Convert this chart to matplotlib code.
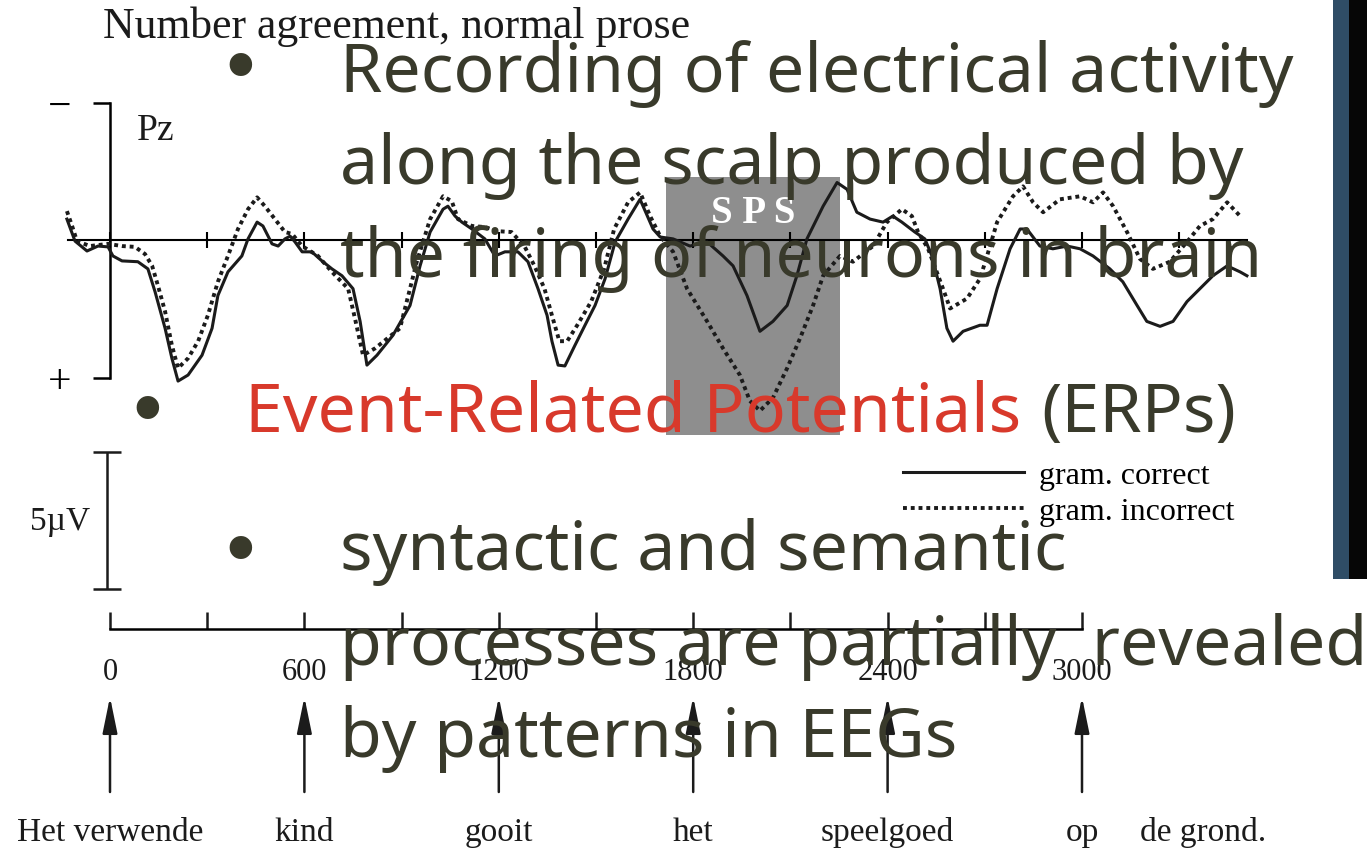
import matplotlib.pyplot as plt
from matplotlib.patches import Rectangle

# Pz grand averages: time in ms, amplitude in microvolts (negative plotted up)
t_correct = [-133, -108, -71, -37, -6, 9, 37, 86, 117, 139,
             170, 191, 210, 241, 284, 315, 333, 364, 407, 426,
             454, 472, 500, 519, 540, 556, 571, 593, 623, 654,
             685, 716, 750, 772, 793, 824, 873, 926, 957, 988,
             1028, 1043, 1065, 1086, 1117, 1157, 1188, 1219, 1259, 1290,
             1321, 1349, 1364, 1383, 1404, 1435, 1466, 1497, 1528, 1559,
             1599, 1636, 1676, 1698, 1738, 1790, 1843, 1892, 1923, 1966,
             2006, 2046, 2090, 2120, 2151, 2201, 2244, 2275, 2305, 2346,
             2386, 2416, 2444, 2484, 2515, 2537, 2562, 2583, 2602, 2633,
             2685, 2707, 2738, 2778, 2809, 2830, 2870, 2910, 2954, 2994,
             3034, 3086, 3126, 3170, 3200, 3241, 3281, 3324, 3364, 3404,
             3448, 3488, 3509]
uv_correct = [-0.76, 0.04, 0.40, 0.22, 0.25, 0.58, 0.76, 0.79, 1.05, 1.88,
              3.21, 4.30, 5.13, 4.91, 4.19, 3.21, 2.02, 1.16, 0.58, -0.04,
              -0.65, -0.51, 0.14, 0.22, -0.04, -0.14, 0.07, 0.43, 0.43, 0.76,
              1.05, 1.30, 1.77, 2.96, 4.55, 4.19, 3.47, 2.38, 0.94, -0.29,
              -1.12, -1.23, -0.87, -0.65, -0.40, -0.04, 0.58, 0.43, 0.43, 0.79,
              1.77, 2.74, 3.68, 4.55, 4.58, 3.83, 3.10, 2.38, 1.41, 0.07,
              -0.76, -1.48, -0.40, -0.11, -0.04, 0.22, 0.07, 0.58, 0.94, 2.02,
              3.32, 2.96, 2.38, 1.30, -0.04, -1.23, -2.09, -1.84, -1.01, -0.76,
              -0.65, -0.87, -0.65, -0.29, -0.04, 0.58, 1.77, 3.21, 3.68, 3.32,
              3.10, 3.10, 1.77, 0.32, -0.40, -0.40, 0.22, 0.32, 0.22, 0.32,
              0.58, 1.05, 1.52, 2.38, 2.96, 3.14, 2.96, 2.24, 1.77, 1.30,
              0.94, 1.16, 1.30]

t_incorrect = [-133, -117, -102, -62, -6, 37, 77, 108, 130, 148,
               170, 191, 210, 241, 272, 302, 333, 364, 395, 426,
               454, 478, 509, 540, 562, 593, 642, 685, 735, 756,
               781, 818, 895, 947, 988, 1028, 1055, 1074, 1117, 1157,
               1197, 1239, 1279, 1310, 1341, 1364, 1387, 1411, 1442, 1485,
               1525, 1556, 1599, 1636, 1667, 1698, 1738, 1781, 1843, 1892,
               1944, 1975, 2006, 2046, 2090, 2130, 2170, 2201, 2253, 2293,
               2355, 2398, 2444, 2475, 2494, 2525, 2540, 2571, 2593, 2645,
               2685, 2707, 2738, 2787, 2818, 2849, 2880, 2932, 2994, 3034,
               3065, 3096, 3139, 3179, 3219, 3271, 3324, 3364, 3404, 3448,
               3488]
uv_incorrect = [-1.05, -0.51, 0.04, 0.22, 0.14, 0.22, 0.25, 0.51, 0.94, 1.66,
                2.60, 3.83, 4.66, 4.30, 3.68, 2.74, 1.52, 0.58, -0.40, -1.12,
                -1.55, -1.23, -0.76, -0.29, -0.22, 0.22, 0.58, 1.16, 1.77, 2.85,
                4.19, 3.94, 3.21, 0.79, -0.76, -1.59, -1.41, -0.76, -0.51, -0.47,
                -0.32, -0.29, 0.22, 0.94, 1.77, 2.74, 3.68, 3.68, 3.10, 2.24,
                1.05, -0.40, -1.37, -1.73, -0.87, -0.14, 0.43, 1.77, 2.96, 3.94,
                4.91, 5.85, 6.21, 5.74, 4.66, 3.57, 2.38, 1.30, 0.58, 0.79,
                0.22, -0.65, -1.12, -0.87, -0.29, 0.32, 0.79, 1.77, 2.49, 2.13,
                1.41, 0.58, -0.65, -1.59, -1.95, -1.37, -1.01, -1.48, -1.59, -1.37,
                -1.73, -1.23, -0.29, 0.69, 1.05, 0.79, 0.07, -0.51, -0.76, -1.37,
                -0.87]

time_labels = [0, 600, 1200, 1800, 2400, 3000]
word_onsets = [0, 600, 1200, 1800, 2400, 3000]
words = ["Het verwende", "kind", "gooit", "het", "speelgoed", "op"]
last_word = "de grond."
last_word_ms = 3373

sps_window = [1716, 2253]
sps_range = [-2.3, 7.1]
scale_uv = 5
scale_top_uv = 7.7

W, H = 1367, 853
PX_MS = 0.324     # pixels per ms
ZERO_X, ZERO_Y = 110, 241
PX_UV = 27.5      # pixels per microvolt
XLIM = (-ZERO_X / PX_MS, (W - ZERO_X) / PX_MS)

serif = "Liberation Serif"
ink = "#1b1b1b"
slide_ink = "#393a2b"
slide_red = "#d8392b"

fig = plt.figure(figsize=(W / 100, H / 100), dpi=100)
fig.patch.set_facecolor("white")


def band(top, bottom):
    return [0, 1 - bottom / H, 1, (bottom - top) / H]


# ERP panel
ax = fig.add_axes(band(95, 600))
ax.set_xlim(*XLIM)
ax.set_ylim((600 - ZERO_Y) / PX_UV, (95 - ZERO_Y) / PX_UV)
ax.patch.set_visible(False)

ax.add_patch(Rectangle((sps_window[0], sps_range[0]),
                       sps_window[1] - sps_window[0], sps_range[1] - sps_range[0],
                       facecolor="#8e8e8e", edgecolor="none", zorder=1))
ax.text(sum(sps_window) / 2, -1.0, "S P S", color="white", fontweight="bold",
        fontfamily=serif, fontsize=28, ha="center", va="center", zorder=2)

ax.plot(t_correct, uv_correct, color=ink, lw=2.2, label="gram. correct",
        solid_joinstyle="round", zorder=3)
ax.plot(t_incorrect, uv_incorrect, color=ink, lw=2.8, linestyle=(0, (1, 1.0)),
        label="gram. incorrect", zorder=3)

for side in ("top", "right"):
    ax.spines[side].set_visible(False)
ax.spines["left"].set_position(("data", 0))
ax.spines["left"].set_bounds(-5, 5)
ax.spines["left"].set_linewidth(1.8)
ax.spines["bottom"].set_position(("data", 0))
ax.spines["bottom"].set_bounds(-130, 3510)
ax.spines["bottom"].set_linewidth(1.5)
ax.set_yticks([-5, 5])
ax.set_yticklabels(["\u2212", "+"], fontfamily=serif, fontsize=30)
ax.tick_params(axis="y", direction="out", length=12, width=1.8, pad=16)
ax.set_xticks(range(0, 3301, 300))
ax.set_xticklabels([])
ax.tick_params(axis="x", direction="inout", length=11, width=1.5)

ax.text(83, -3.67, "Pz", fontfamily=serif, fontsize=27, color=ink, va="baseline")

# 5 uV calibration bar
ax.errorbar([-10], [scale_top_uv + scale_uv / 2], yerr=scale_uv / 2, fmt="none",
            ecolor=ink, elinewidth=1.8, capsize=10, capthick=1.8)
ax.text(-154, scale_top_uv + scale_uv / 2, "5\u00b5V", fontfamily=serif, fontsize=24,
        color=ink, ha="center", va="center")

ax.legend(loc="upper left", bbox_to_anchor=(903 / W, 1 - 462 / H),
          bbox_transform=fig.transFigure, frameon=False,
          prop={"family": serif, "size": 23}, handlelength=3.8,
          handletextpad=0.45, labelspacing=0.2, borderpad=0, borderaxespad=0)

# time axis
tax = fig.add_axes(band(600, 700))
tax.set_xlim(*XLIM)
tax.set_ylim(0, 1)
tax.patch.set_visible(False)
for side in ("top", "right", "left"):
    tax.spines[side].set_visible(False)
tax.spines["bottom"].set_position(("axes", 0.7))
tax.spines["bottom"].set_bounds(0, 3000)
tax.spines["bottom"].set_linewidth(1.8)
tax.set_yticks([])
tax.set_xticks(time_labels)
tax.set_xticklabels([str(v) for v in time_labels], fontfamily=serif, fontsize=22)
tax.set_xticks(range(300, 3000, 600), minor=True)
tax.tick_params(axis="x", which="both", direction="in", length=12, width=1.8,
                pad=20, colors=ink)

# word onsets
aax = fig.add_axes(band(680, 853))
aax.set_xlim(*XLIM)
aax.set_ylim(853, 680)
aax.axis("off")
for t in word_onsets:
    aax.annotate("", xy=(t, 698), xytext=(t, 793),
                 arrowprops=dict(arrowstyle="-|>,head_length=2.2,head_width=0.45",
                                 lw=1.8, color=ink, shrinkA=0, shrinkB=0))
for t, w in zip(word_onsets, words):
    aax.text(t, 833, w, fontfamily=serif, fontsize=24, color=ink,
             ha="center", va="center")
aax.text(last_word_ms, 833, last_word, fontfamily=serif, fontsize=24, color=ink,
         ha="center", va="center")

# slide overlay
ov = fig.add_axes([0, 0, 1, 1])
ov.set_xlim(0, W)
ov.set_ylim(H, 0)
ov.axis("off")

ov.text(103, 38, "Number agreement, normal prose", fontfamily=serif, fontsize=31.5,
        color=ink, va="baseline", zorder=1)

ov.add_patch(Rectangle((1333, 0), 16, 580, facecolor="#2f4d66", edgecolor="none"))
ov.add_patch(Rectangle((1349, 0), 18, 580, facecolor="#060606", edgecolor="none"))

sans = "Noto Sans"
size = 49
bullets = [(240, 94), (147, 437), (240, 577)]
lines = [(340, 92, "Recording of electrical activity"),
         (340, 184, "along the scalp produced by"),
         (340, 277, "the firing of neurons in brain"),
         (340, 570, "syntactic and semantic"),
         (340, 665, "processes are partially  revealed"),
         (340, 757, "by patterns in EEGs")]

for x, y in bullets:
    ov.text(x, y, "\u2022", fontfamily="DejaVu Sans", fontsize=56, color=slide_ink,
            ha="center", va="baseline", zorder=5)
for x, y, s in lines:
    ov.text(x, y, s, fontfamily=sans, fontsize=size, color=slide_ink,
            va="baseline", zorder=5)

red = ov.text(245, 432, "Event-Related Potentials", fontfamily=sans, fontsize=size,
              color=slide_red, va="baseline", zorder=5)
fig.canvas.draw()
bb = red.get_window_extent()
x_end = ov.transData.inverted().transform((bb.x1, bb.y0))[0]
ov.text(x_end + 20, 432, "(ERPs)", fontfamily=sans, fontsize=size,
        color=slide_ink, va="baseline", zorder=5)

fig.savefig("out.png", dpi=100)
